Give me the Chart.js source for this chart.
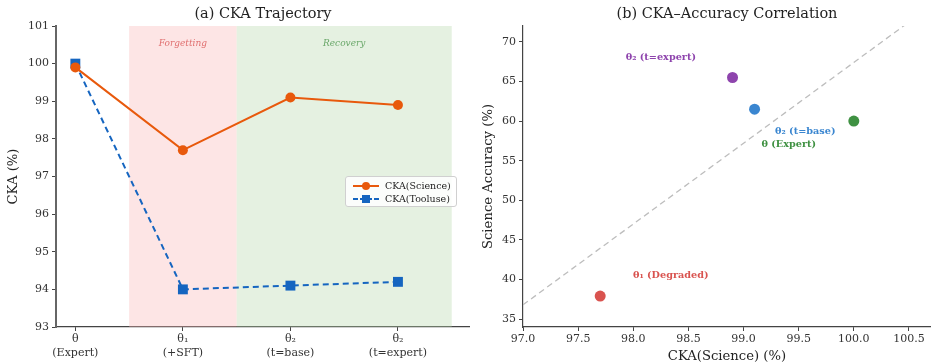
<!DOCTYPE html>
<html><head><meta charset="utf-8">
<script src="https://cdn.jsdelivr.net/npm/chart.js@4/dist/chart.umd.min.js"></script>
<style>
html,body{margin:0;padding:0;background:#fff;}
#wrap{position:relative;width:931px;height:364px;}
#c1{position:absolute;left:0;top:0;}
#c2{position:absolute;left:470px;top:0;}
#legend{position:absolute;left:345px;top:176px;width:112px;height:31px;border:1px solid #d0d0d0;border-radius:3px;background:rgba(255,255,255,0.85);font-family:"DejaVu Serif",serif;font-size:9.5px;color:#222;box-sizing:border-box;padding-top:2px;}
#legend div{display:flex;align-items:center;height:13px;}
#legend svg{margin:0 6px 0 7px;}
</style></head><body>
<div id="wrap">
<canvas id="c1" width="470" height="364"></canvas>
<canvas id="c2" width="461" height="364"></canvas>
<div id="legend"></div>
</div>
<script>
// ---------- Data: panel (a) ----------
const stageLabels = [["θ","(Expert)"],["θ₁","(+SFT)"],["θ₂","(t=base)"],["θ₂","(t=expert)"]];
const ckaScience = [99.9, 97.7, 99.1, 98.9];
const ckaTooluse = [100.0, 94.0, 94.1, 94.2];
const regionNames = ["Forgetting","Recovery"];
const regionFrom = [0.5, 1.5];
const regionTo = [1.5, 3.5];
const leftYTicks = [93,94,95,96,97,98,99,100,101];

// ---------- Data: panel (b) ----------
const pointNames = ["θ (Expert)","θ₁ (Degraded)","θ₂ (t=base)","θ₂ (t=expert)"];
const pointCKA = [100.0, 97.7, 99.1, 98.9];
const pointAcc = [60.0, 37.9, 61.5, 65.5];
const labelX = [99.41, 98.34, 99.56, 98.25];
const labelY = [57.0, 40.5, 58.7, 68.0];
const trendX = [97.0, 100.5];
const trendY = [36.8, 72.5];

const ORANGE = '#E8590C', BLUE = '#1565C0';
const pointColors = ['#3F9142','#D9534F','#3A86D0','#8E44AD'];
const SERIF = '"DejaVu Serif", serif';

Chart.defaults.font.family = SERIF;
Chart.defaults.color = '#222';
Chart.defaults.animation = false;

// legend html
const leg = document.getElementById('legend');
leg.innerHTML =
 '<div><svg width="26" height="10"><line x1="0" y1="5" x2="26" y2="5" stroke="'+ORANGE+'" stroke-width="2"/><circle cx="13" cy="5" r="4" fill="'+ORANGE+'"/></svg>CKA(Science)</div>'+
 '<div><svg width="26" height="10"><line x1="0" y1="5" x2="26" y2="5" stroke="'+BLUE+'" stroke-width="2" stroke-dasharray="5,2"/><rect x="9" y="1" width="8" height="8" fill="'+BLUE+'"/></svg>CKA(Tooluse)</div>';

const regionPlugin = {
  id:'regions',
  beforeDatasetsDraw(chart){
    const {ctx, chartArea:a, scales:{x}} = chart;
    const fills = ['rgba(248,180,180,0.35)','rgba(180,215,170,0.35)'];
    const tcol = ['#E07070','#6AA86A'];
    ctx.save();
    regionNames.forEach((n,i)=>{
      const x0 = x.getPixelForValue(regionFrom[i]), x1 = x.getPixelForValue(regionTo[i]);
      ctx.fillStyle = fills[i];
      ctx.fillRect(x0, a.top, x1-x0, a.bottom-a.top);
      ctx.fillStyle = tcol[i];
      ctx.font = 'italic 9px '+SERIF;
      ctx.textAlign='center'; ctx.textBaseline='middle';
      ctx.fillText(n, (x0+x1)/2, a.top+18);
    });
    ctx.restore();
  }
};

const tickFont = {family:SERIF, size:11};
const titleFont = {family:SERIF, size:14.5, weight:'normal'};
const axisTitleFont = {family:SERIF, size:13.2};

new Chart(document.getElementById('c1'), {
  type:'line',
  data:{datasets:[
    {label:'CKA(Science)', data:ckaScience.map((v,i)=>({x:i,y:v})), borderColor:ORANGE, backgroundColor:ORANGE, borderWidth:2, pointRadius:5, pointStyle:'circle', pointBorderWidth:0},
    {label:'CKA(Tooluse)', data:ckaTooluse.map((v,i)=>({x:i,y:v})), borderColor:BLUE, backgroundColor:BLUE, borderWidth:2, borderDash:[6,4], pointRadius:7, pointStyle:'rect', pointBorderWidth:0}
  ]},
  options:{
    responsive:false, clip:false,
    layout:{autoPadding:false, padding:{left:6,right:0,top:0,bottom:0}},
    plugins:{legend:{display:false}, tooltip:{enabled:false},
      title:{display:true, fullSize:false, text:'(a) CKA Trajectory', font:titleFont, color:'#222', padding:{top:6,bottom:2.6}}},
    scales:{
      x:{type:'linear', min:-0.18, max:3.67,
        afterBuildTicks(s){ s.ticks = stageLabels.map((l,i)=>({value:i})); },
        ticks:{callback:(v)=>stageLabels[v], font:tickFont, color:'#333', padding:2, maxRotation:0, autoSkip:false},
        grid:{display:true, drawOnChartArea:false, drawTicks:true, tickLength:4, color:'#444'},
        border:{display:true, color:'#444', width:1.2},
        afterFit(s){ s.height = 37; s.paddingLeft = 0; s.paddingRight = 0; }
      },
      y:{min:93, max:101,
        afterBuildTicks(s){ s.ticks = leftYTicks.map(v=>({value:v})); },
        ticks:{font:tickFont, color:'#333', padding:3},
        grid:{display:true, drawOnChartArea:false, drawTicks:true, tickLength:4, color:'#444'},
        border:{display:true, color:'#666', width:2},
        title:{display:true, text:'CKA (%)', font:axisTitleFont, color:'#222', padding:{top:0,bottom:3}},
        afterFit(s){ s.width = 50; }
      }
    }
  },
  plugins:[regionPlugin]
});

const labelPlugin = {
  id:'ptlabels',
  afterDatasetsDraw(chart){
    const {ctx, scales:{x,y}} = chart;
    ctx.save();
    ctx.font = 'bold 9.7px '+SERIF;
    ctx.textAlign='center'; ctx.textBaseline='middle';
    pointNames.forEach((n,i)=>{
      ctx.fillStyle = pointColors[i];
      ctx.fillText(n, x.getPixelForValue(labelX[i]), y.getPixelForValue(labelY[i]));
    });
    ctx.restore();
  }
};

new Chart(document.getElementById('c2'), {
  type:'scatter',
  data:{datasets:[
    {label:'trend', type:'line', data:trendX.map((v,i)=>({x:v,y:trendY[i]})), borderColor:'#BDBDBD', borderWidth:1.3, borderDash:[6,4], pointRadius:0, fill:false},
    {label:'points', data:pointCKA.map((v,i)=>({x:v,y:pointAcc[i]})), backgroundColor:pointColors, pointRadius:5.5, pointBorderWidth:0}
  ]},
  options:{
    responsive:false,
    layout:{autoPadding:false, padding:{left:11,right:0,top:0,bottom:0}},
    plugins:{legend:{display:false}, tooltip:{enabled:false},
      title:{display:true, fullSize:false, text:'(b) CKA–Accuracy Correlation', font:titleFont, color:'#222', padding:{top:6,bottom:2.6}}},
    scales:{
      x:{type:'linear', min:97, max:100.7,
        afterBuildTicks(s){ const t=[]; for(let v=97;v<=100.51;v+=0.5) t.push({value:+v.toFixed(1)}); s.ticks=t; },
        ticks:{callback:(v)=>v.toFixed(1), font:tickFont, color:'#333', padding:2, maxRotation:0, autoSkip:false},
        grid:{display:true, drawOnChartArea:false, drawTicks:true, tickLength:4, color:'#444'},
        border:{display:true, color:'#444', width:1.2},
        title:{display:true, text:'CKA(Science) (%)', font:axisTitleFont, color:'#222', padding:{top:0,bottom:0}},
        afterFit(s){ s.height = 37; s.paddingLeft = 0; s.paddingRight = 0; }
      },
      y:{min:34, max:72,
        afterBuildTicks(s){ const t=[]; for(let v=35;v<=70;v+=5) t.push({value:v}); s.ticks=t; },
        ticks:{font:tickFont, color:'#333', padding:3},
        grid:{display:true, drawOnChartArea:false, drawTicks:true, tickLength:4, color:'#444'},
        border:{display:true, color:'#444', width:1.2},
        title:{display:true, text:'Science Accuracy (%)', font:axisTitleFont, color:'#222', padding:{top:0,bottom:3}},
        afterFit(s){ s.width = 42; }
      }
    }
  },
  plugins:[labelPlugin]
});
</script>
</body></html>
